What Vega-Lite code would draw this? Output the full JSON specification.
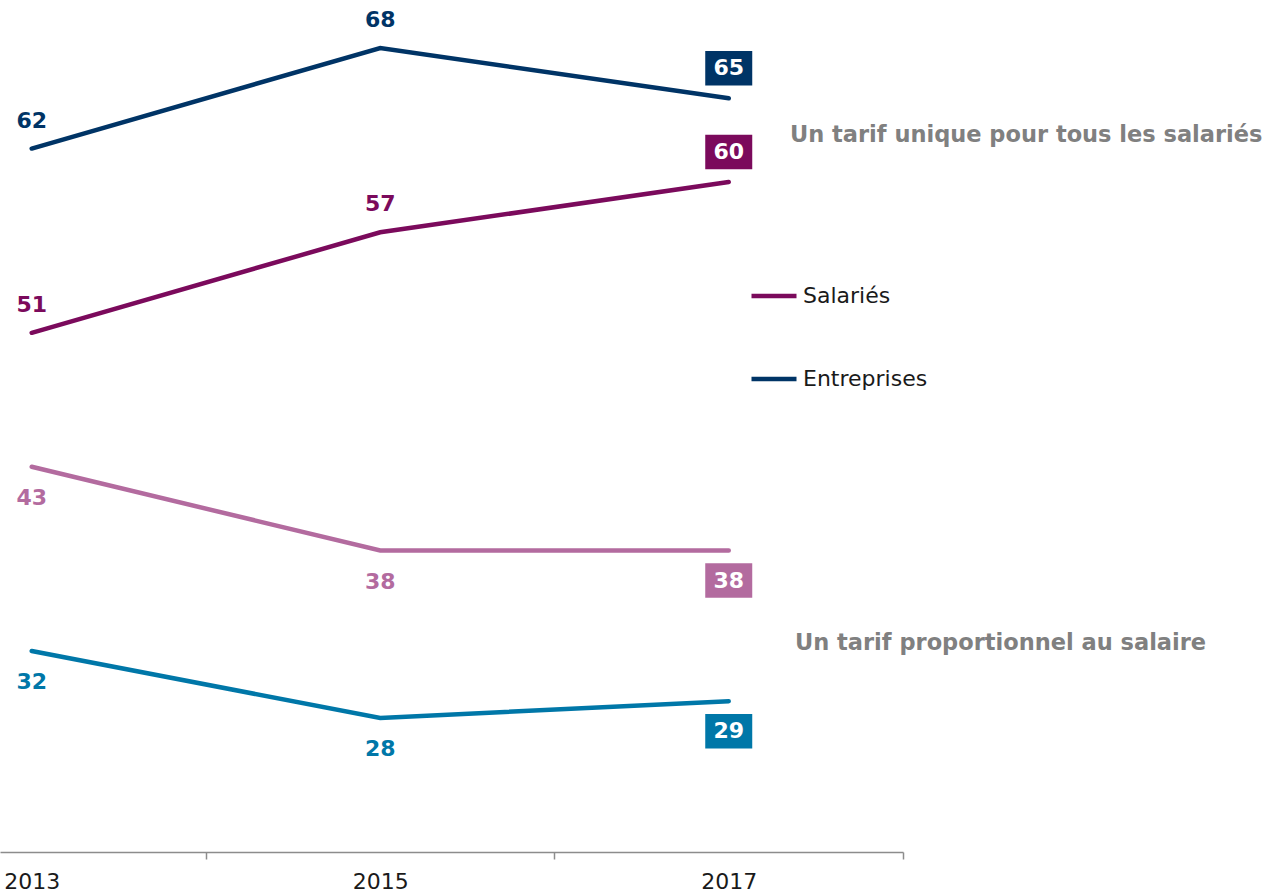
{
  "$schema": "https://vega.github.io/schema/vega-lite/v6.json",
  "width": 903,
  "height": 852,
  "autosize": {"type": "none"},
  "padding": {"left": 0, "top": 0, "right": 364, "bottom": 41},
  "background": "white",
  "config": {"view": {"stroke": null}, "font": "DejaVu Sans"},
  "datasets": {
    "series": [
      {"annee": 2013, "valeur": 62, "serie": "Entreprises", "groupe": "unique"},
      {"annee": 2015, "valeur": 68, "serie": "Entreprises", "groupe": "unique"},
      {"annee": 2017, "valeur": 65, "serie": "Entreprises", "groupe": "unique"},
      {"annee": 2013, "valeur": 51, "serie": "Salariés", "groupe": "unique"},
      {"annee": 2015, "valeur": 57, "serie": "Salariés", "groupe": "unique"},
      {"annee": 2017, "valeur": 60, "serie": "Salariés", "groupe": "unique"},
      {"annee": 2013, "valeur": 43, "serie": "Salariés (proportionnel)", "groupe": "proportionnel"},
      {"annee": 2015, "valeur": 38, "serie": "Salariés (proportionnel)", "groupe": "proportionnel"},
      {"annee": 2017, "valeur": 38, "serie": "Salariés (proportionnel)", "groupe": "proportionnel"},
      {"annee": 2013, "valeur": 32, "serie": "Entreprises (proportionnel)", "groupe": "proportionnel"},
      {"annee": 2015, "valeur": 28, "serie": "Entreprises (proportionnel)", "groupe": "proportionnel"},
      {"annee": 2017, "valeur": 29, "serie": "Entreprises (proportionnel)", "groupe": "proportionnel"}
    ],
    "annotations": [
      {"texte": "Un tarif unique pour tous les salariés", "x": 2017.351, "y": 62.81},
      {"texte": "Un tarif proportionnel au salaire", "x": 2017.38, "y": 32.48}
    ]
  },
  "layer": [
    {
      "data": {"name": "series"},
      "encoding": {
        "x": {
          "field": "annee", "type": "quantitative",
          "scale": {"domain": [2012.818, 2018], "nice": false, "zero": false},
          "axis": {
            "title": null, "values": [2013, 2014, 2015, 2016, 2017, 2018],
            "grid": false, "domainColor": "#8c8c8c", "domainWidth": 1.5,
            "tickColor": "#8c8c8c", "tickSize": 7, "tickWidth": 1.5,
            "tickOpacity": {"condition": {"test": "datum.value % 2 == 0", "value": 1}, "value": 0},
            "labelExpr": "datum.value % 2 == 1 ? datum.label : ''",
            "format": "d", "labelFontSize": 22, "labelColor": "#1a1a1a",
            "labelPadding": 12, "labelFont": "DejaVu Sans", "labelOverlap": false, "labelFlush": false
          }
        },
        "y": {
          "field": "valeur", "type": "quantitative",
          "scale": {"domain": [20, 70.87], "nice": false, "zero": false},
          "axis": null
        },
        "color": {
          "field": "serie", "type": "nominal",
          "scale": {
            "domain": ["Salariés", "Entreprises", "Salariés (proportionnel)", "Entreprises (proportionnel)"],
            "range": ["#7b0a5c", "#003466", "#b36b9f", "#0077a8"]
          },
          "legend": {
            "values": ["Salariés", "Entreprises"], "title": null, "orient": "none",
            "legendX": 749, "legendY": 271, "padding": 0,
            "symbolType": "stroke", "symbolSize": 2025, "symbolStrokeWidth": 4.5,
            "labelFontSize": 22, "labelColor": "#1a1a1a", "labelFont": "DejaVu Sans",
            "labelOffset": 4, "rowPadding": 47
          }
        }
      },
      "layer": [
        {"mark": {"type": "line", "strokeWidth": 4.5, "strokeCap": "round"}, "encoding": {"detail": {"field": "serie"}}},
        {
          "transform": [{"filter": "datum.groupe == 'unique' && datum.annee != 2017"}],
          "mark": {"type": "text", "fontWeight": "bold", "fontSize": 22, "baseline": "middle", "yOffset": -28},
          "encoding": {"text": {"field": "valeur", "type": "quantitative"}}
        },
        {
          "transform": [{"filter": "datum.groupe == 'proportionnel' && datum.annee != 2017"}],
          "mark": {"type": "text", "fontWeight": "bold", "fontSize": 22, "baseline": "middle", "yOffset": 31},
          "encoding": {"text": {"field": "valeur", "type": "quantitative"}}
        },
        {
          "transform": [{"filter": "datum.groupe == 'unique' && datum.annee == 2017"}],
          "mark": {"type": "point", "filled": true, "opacity": 1, "strokeWidth": 0, "size": 2209, "shape": "M-1,-0.734L1,-0.734L1,0.734L-1,0.734Z", "yOffset": -30}
        },
        {
          "transform": [{"filter": "datum.groupe == 'proportionnel' && datum.annee == 2017"}],
          "mark": {"type": "point", "filled": true, "opacity": 1, "strokeWidth": 0, "size": 2209, "shape": "M-1,-0.734L1,-0.734L1,0.734L-1,0.734Z", "yOffset": 30}
        },
        {
          "transform": [{"filter": "datum.groupe == 'unique' && datum.annee == 2017"}],
          "mark": {"type": "text", "fontWeight": "bold", "fontSize": 22, "baseline": "middle", "yOffset": -30},
          "encoding": {"text": {"field": "valeur", "type": "quantitative"}, "color": {"value": "white"}}
        },
        {
          "transform": [{"filter": "datum.groupe == 'proportionnel' && datum.annee == 2017"}],
          "mark": {"type": "text", "fontWeight": "bold", "fontSize": 22, "baseline": "middle", "yOffset": 30},
          "encoding": {"text": {"field": "valeur", "type": "quantitative"}, "color": {"value": "white"}}
        }
      ]
    },
    {
      "data": {"name": "annotations"},
      "mark": {"type": "text", "align": "left", "baseline": "middle", "fontWeight": "bold", "fontSize": 22.5, "color": "#808080"},
      "encoding": {
        "x": {"field": "x", "type": "quantitative"},
        "y": {"field": "y", "type": "quantitative"},
        "text": {"field": "texte", "type": "nominal"}
      }
    }
  ]
}
